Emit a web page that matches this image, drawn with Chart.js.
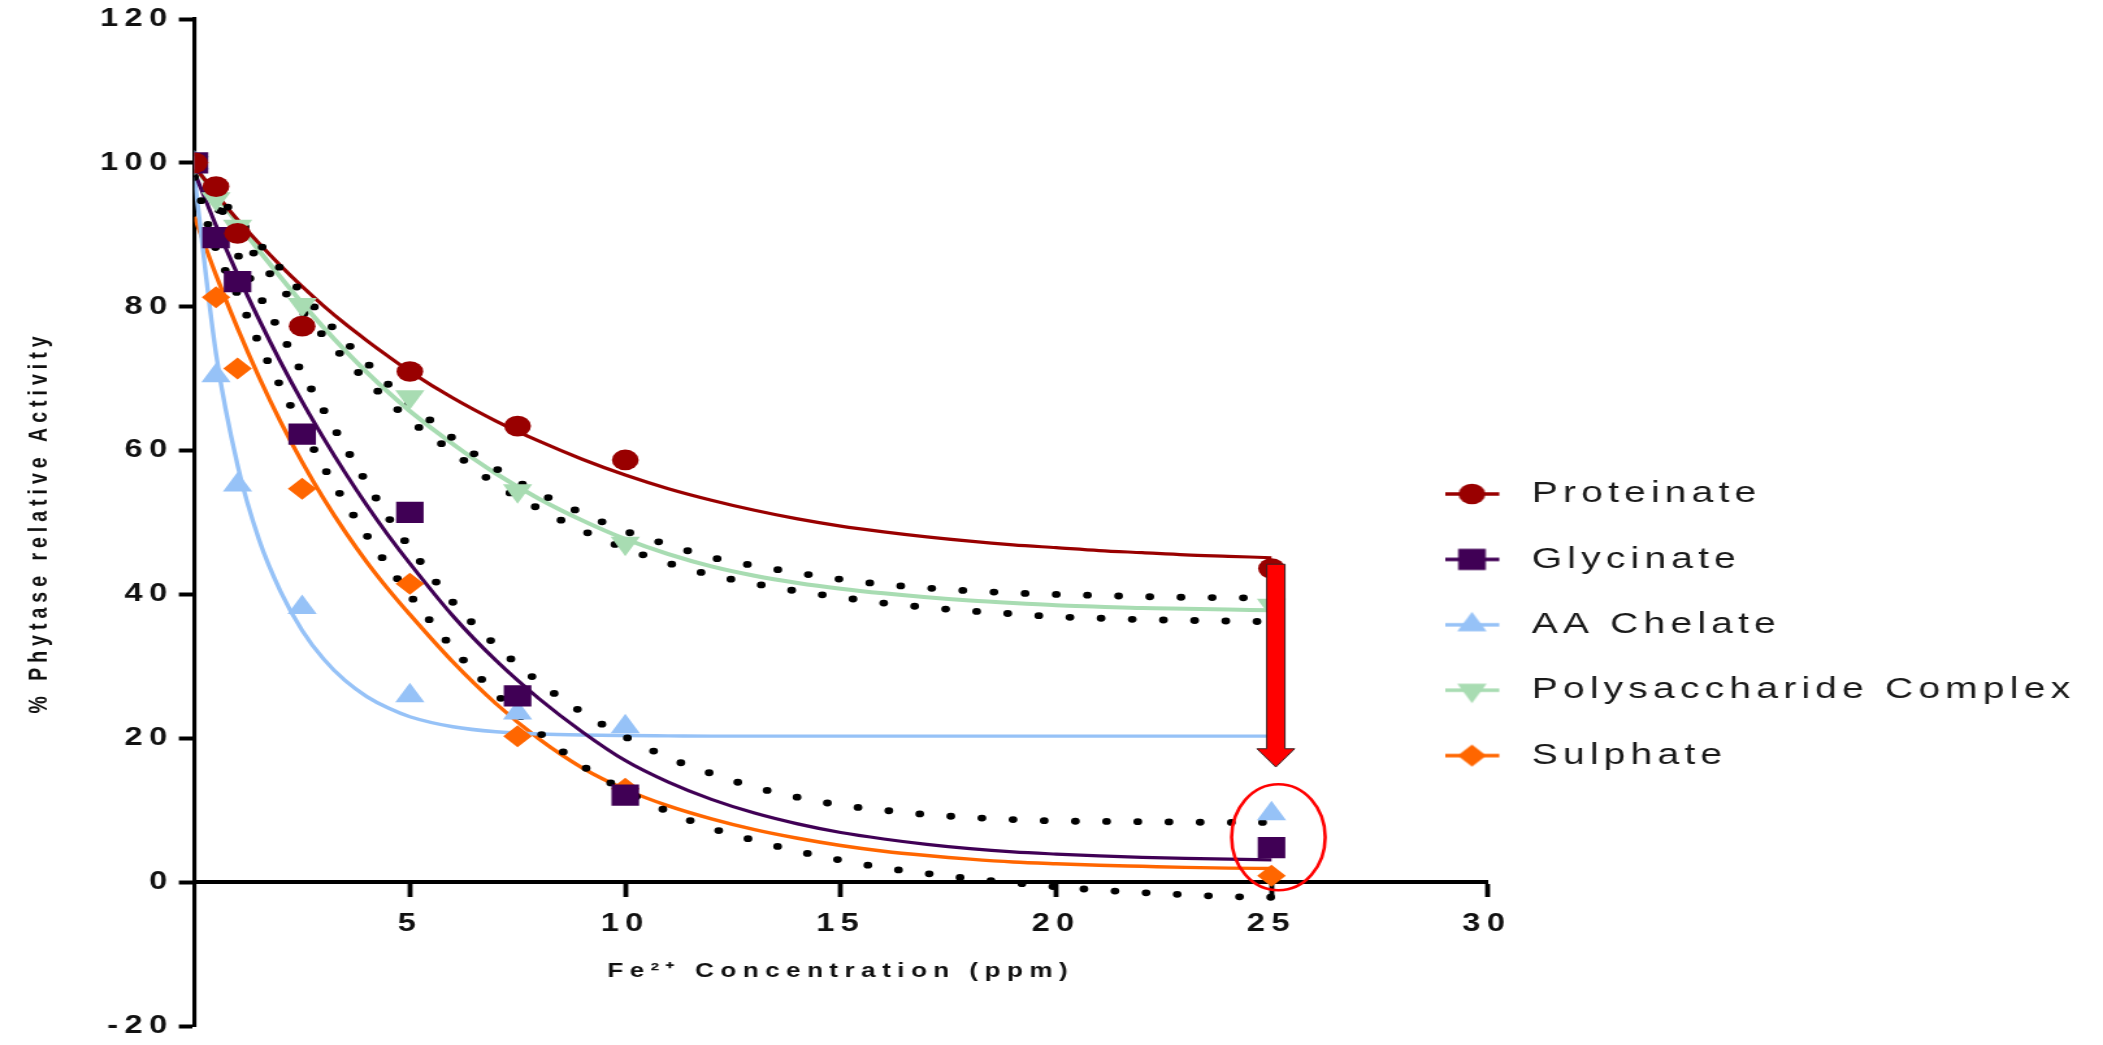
<!DOCTYPE html>
<html>
<head>
<meta charset="utf-8">
<script src="https://cdn.jsdelivr.net/npm/chart.js@4/dist/chart.umd.min.js"></script>
<style>
html,body{margin:0;padding:0;background:#fff;overflow:hidden}
#c{display:block;width:2103px !important;height:1045px !important}
</style>
</head>
<body>
<canvas id="c" width="1618" height="1045" style="width:2103px;height:1045px"></canvas>
<script>
// ---------------- data ----------------
const SERIES_NAMES = ['Proteinate', 'Glycinate', 'AA Chelate', 'Polysaccharide Complex', 'Sulphate'];

// measured points
const MARK_X     = [0, 0.5, 1, 2.5, 5, 7.5, 10, 25];
const PROTEINATE = [100, 96.7, 90.2, 77.3, 71.0, 63.4, 58.7, 43.6];
const GLYCINATE  = [100, 89.6, 83.5, 62.3, 51.4, 25.9, 12.1, 4.8];
const AA_CHELATE = [100, 70.4, 55.2, 38.2, 25.9, 23.5, 21.6, 9.5];
const POLYSACCH  = [100, 95.0, 91.2, 80.3, 67.5, 54.4, 47.1, 38.5];
const SULPHATE   = [100, 81.3, 71.4, 54.7, 41.5, 20.3, 13.0, 0.9];

// fitted curves
const FIT_X = [0, 0.5, 1, 1.5, 2, 2.5, 3, 3.5, 4, 4.5, 5, 6, 7, 8, 9, 10, 11, 12, 13, 14, 15, 16, 17, 18, 19, 20, 21, 22, 23, 24, 25];
const PROTEINATE_FIT = [99.5, 95.7, 92.1, 88.8, 85.7, 82.8, 80.1, 77.6, 75.3, 73.1, 71.0, 67.3, 64.1, 61.3, 58.8, 56.6, 54.7, 53.1, 51.7, 50.5, 49.5, 48.7, 48.0, 47.4, 46.9, 46.5, 46.1, 45.8, 45.5, 45.3, 45.1];
const GLYCINATE_FIT  = [98.7, 91.3, 84.5, 78.2, 72.3, 66.8, 61.7, 56.9, 52.4, 48.2, 44.3, 37.0, 30.8, 25.5, 20.9, 16.9, 13.9, 11.5, 9.6, 8.1, 6.9, 6.0, 5.25, 4.65, 4.2, 3.9, 3.65, 3.45, 3.3, 3.2, 3.1];
const AA_CHELATE_FIT = [98.0, 73.5, 58.0, 47.6, 40.4, 35.0, 31.0, 28.0, 25.8, 24.2, 23.0, 21.6, 20.9, 20.6, 20.45, 20.38, 20.34, 20.3, 20.3, 20.3, 20.3, 20.3, 20.3, 20.3, 20.3, 20.3, 20.3, 20.3, 20.3, 20.3, 20.3];
const POLYSACCH_FIT  = [99.5, 95.5, 91.6, 87.8, 84.1, 80.5, 77.1, 73.9, 70.9, 68.1, 65.5, 60.9, 56.8, 53.3, 50.3, 47.7, 45.6, 43.9, 42.6, 41.6, 40.8, 40.15, 39.6, 39.15, 38.8, 38.5, 38.3, 38.1, 38.0, 37.9, 37.8];
const SULPHATE_FIT   = [92.5, 84.4, 77.0, 70.2, 64.0, 58.4, 53.3, 48.7, 44.5, 40.7, 37.2, 30.6, 24.8, 19.9, 15.9, 12.9, 10.6, 8.8, 7.3, 6.1, 5.1, 4.3, 3.7, 3.2, 2.8, 2.55, 2.35, 2.2, 2.05, 1.95, 1.9];

// dotted confidence bands
const GLY_BAND_UPPER  = [99.5, 94.3, 87.3, 81.6, 76.4, 70.8, 65.6, 60.5, 55.5, 50.7, 46.5, 38.9, 32.9, 27.8, 23.6, 20.2, 17.3, 15.1, 13.2, 11.8, 10.7, 10.0, 9.4, 9.0, 8.7, 8.5, 8.45, 8.4, 8.35, 8.3, 8.3];
const GLY_BAND_LOWER  = [98.0, 88.0, 81.7, 74.9, 68.9, 63.2, 57.7, 52.8, 48.2, 43.9, 39.9, 32.5, 26.2, 20.8, 16.2, 12.7, 9.8, 7.5, 5.8, 4.3, 3.05, 2.0, 1.2, 0.5, -0.1, -0.65, -1.1, -1.45, -1.75, -2.0, -2.1];
const POLY_BAND_UPPER = [99.5, 95.8, 92.3, 88.8, 85.3, 81.9, 78.5, 75.2, 72.2, 69.2, 66.6, 61.7, 57.5, 54.1, 51.3, 48.8, 46.9, 45.15, 44.0, 43.0, 42.1, 41.4, 40.9, 40.5, 40.2, 40.0, 39.85, 39.7, 39.6, 39.55, 39.5];
const POLY_BAND_LOWER = [99.2, 94.6, 90.3, 86.5, 82.7, 79.3, 75.9, 72.7, 69.7, 66.9, 64.2, 59.8, 55.3, 51.9, 48.9, 46.4, 44.35, 42.7, 41.5, 40.45, 39.6, 38.8, 38.2, 37.7, 37.3, 36.9, 36.7, 36.5, 36.4, 36.3, 36.2];

// axis ticks
const X_TICKS = [5, 10, 15, 20, 25, 30];
const Y_TICKS = [-20, 0, 20, 40, 60, 80, 100, 120];

// annotation anchors (data coordinates)
const ARROW = { x: 25.1, from: 44.2, to: 16.0 };
const RING  = { x: 25.16, y: 6.25 };

// ---------------- styles ----------------
const FONT = "'Liberation Sans', Arial, Helvetica, sans-serif";
const STYLE = [
  { color: '#990000', point: 'circle',   r: 10.3, rot: 0,   lw: 3.2 },
  { color: '#400055', point: 'rect',     r: 15,   rot: 0,   lw: 3.2 },
  { color: '#96c2f7', point: 'triangle', r: 13,   rot: 0,   lw: 3.4 },
  { color: '#a8dcb2', point: 'triangle', r: 13,   rot: 180, lw: 4.0 },
  { color: '#ff6600', point: 'rectRot',  r: 11,   rot: 0,   lw: 3.4 },
];
const MARKS = [PROTEINATE, GLYCINATE, AA_CHELATE, POLYSACCH, SULPHATE];
const FITS  = [PROTEINATE_FIT, GLYCINATE_FIT, AA_CHELATE_FIT, POLYSACCH_FIT, SULPHATE_FIT];
const BANDS = [GLY_BAND_UPPER, GLY_BAND_LOWER, POLY_BAND_UPPER, POLY_BAND_LOWER];

const LETTER_SPACING = '5px';
const LEGEND_SPACING = '4px';
const LEG = { left: 1111.5, firstCenter: 494, font: 30, rowGap: 65.4, boxW: 52 };

function pts(xs, ys) { return xs.map((x, i) => ({ x: x, y: ys[i] })); }

function drawMarker(g, st, cx, cy) {
  const r = st.r;
  g.beginPath();
  if (st.point === 'circle') {
    g.arc(cx, cy, r, 0, Math.PI * 2);
  } else if (st.point === 'rect') {
    const s = r * Math.SQRT1_2;
    g.rect(cx - s, cy - s, 2 * s, 2 * s);
  } else if (st.point === 'triangle') {
    const d = st.rot === 180 ? -1 : 1;
    g.moveTo(cx, cy - d * r);
    g.lineTo(cx + 0.866 * r, cy + d * 0.5 * r);
    g.lineTo(cx - 0.866 * r, cy + d * 0.5 * r);
    g.closePath();
  } else if (st.point === 'rectRot') {
    g.moveTo(cx - r, cy); g.lineTo(cx, cy - r); g.lineTo(cx + r, cy); g.lineTo(cx, cy + r); g.closePath();
  }
  g.fill();
}

function makeIcon(i) {
  const cv = document.createElement('canvas');
  cv.width = LEG.boxW; cv.height = 32;
  const g = cv.getContext('2d');
  const st = STYLE[i];
  g.strokeStyle = st.color; g.lineWidth = 3.6;
  g.beginPath(); g.moveTo(0, 16); g.lineTo(42, 16); g.stroke();
  g.fillStyle = st.color;
  drawMarker(g, st, 21, 16);
  return cv;
}
const ICONS = STYLE.map((s, i) => makeIcon(i));

// ---------------- datasets ----------------
const datasets = [];
MARKS.forEach((arr, i) => {
  const st = STYLE[i];
  datasets.push({
    label: SERIES_NAMES[i], data: pts(MARK_X, arr), showLine: false,
    pointStyle: st.point, pointRadius: st.r, pointRotation: st.rot,
    pointBackgroundColor: st.color, pointBorderWidth: 0, borderColor: st.color,
    order: i
  });
});
BANDS.forEach((arr, i) => {
  datasets.push({
    label: 'band' + i, data: pts(FIT_X, arr), showLine: true,
    borderColor: '#000', borderWidth: 6.8, borderDash: [0, 24], borderCapStyle: 'round',
    pointRadius: 0, cubicInterpolationMode: 'monotone', fill: false, order: 10 + i
  });
});
FITS.forEach((arr, i) => {
  const st = STYLE[i];
  datasets.push({
    label: SERIES_NAMES[i] + ' fit', data: pts(FIT_X, arr), showLine: true,
    borderColor: st.color, borderWidth: st.lw, pointRadius: 0,
    cubicInterpolationMode: 'monotone', fill: false, order: 20 + i
  });
});

// ---------------- plugins ----------------
const spacingPlugin = {
  id: 'spacing',
  beforeInit(c) { c.ctx.letterSpacing = LETTER_SPACING; },
  beforeUpdate(c) { c.ctx.letterSpacing = LETTER_SPACING; },
  beforeLayout(c) { c.ctx.letterSpacing = LETTER_SPACING; },
  beforeDraw(c) { c.ctx.letterSpacing = LETTER_SPACING; }
};

const legendPlace = {
  id: 'legendPlace',
  afterLayout(c) {
    const lg = c.legend; if (!lg) return;
    const pad = LEG.rowGap - LEG.font;
    lg.left = LEG.left - pad;
    lg.top = LEG.firstCenter - LEG.font / 2 - pad;
    lg.right = c.width; lg.bottom = c.height;
    lg.width = lg.right - lg.left; lg.height = lg.bottom - lg.top;
    if (!lg._spacedDraw) {
      const proto = Object.getPrototypeOf(lg);
      lg.draw = function () {
        const ctx = this.ctx, old = ctx.letterSpacing;
        ctx.letterSpacing = LEGEND_SPACING;
        proto.draw.call(this);
        ctx.letterSpacing = old;
      };
      lg._spacedDraw = true;
    }
  }
};

const annotPlugin = {
  id: 'annot',
  afterDatasetsDraw(c) {
    const ctx = c.ctx, xs = c.scales.x, ys = c.scales.y;
    ctx.save();
    const cx = xs.getPixelForValue(RING.x), cy = ys.getPixelForValue(RING.y);
    ctx.strokeStyle = '#ff0000'; ctx.lineWidth = 2.6;
    ctx.beginPath(); ctx.ellipse(cx, cy, 36, 53, 0, 0, Math.PI * 2); ctx.stroke();
    const ax = xs.getPixelForValue(ARROW.x), y0 = ys.getPixelForValue(ARROW.from), y1 = ys.getPixelForValue(ARROW.to);
    const sw = 7, hw = 14.5, hh = 18.3;
    ctx.beginPath();
    ctx.moveTo(ax - sw, y0); ctx.lineTo(ax + sw, y0); ctx.lineTo(ax + sw, y1 - hh);
    ctx.lineTo(ax + hw, y1 - hh); ctx.lineTo(ax, y1); ctx.lineTo(ax - hw, y1 - hh);
    ctx.lineTo(ax - sw, y1 - hh); ctx.closePath();
    ctx.fillStyle = '#ff0000'; ctx.fill();
    ctx.strokeStyle = '#3a2020'; ctx.lineWidth = 1; ctx.stroke();
    ctx.restore();
  }
};

// ---------------- chart ----------------
const chart = new Chart(document.getElementById('c'), {
  type: 'line',
  data: { datasets: datasets },
  plugins: [spacingPlugin, legendPlace, annotPlugin],
  options: {
    responsive: false, animation: false, devicePixelRatio: 1, events: [],
    layout: { padding: { left: 0, right: 474, top: 19, bottom: 0 } },
    plugins: {
      tooltip: { enabled: false },
      legend: {
        display: true, position: 'chartArea', align: 'start',
        labels: {
          usePointStyle: true, pointStyleWidth: LEG.boxW, padding: LEG.rowGap - LEG.font,
          color: '#1a1a1a', font: { family: FONT, size: LEG.font, weight: 'normal' },
          generateLabels: () => SERIES_NAMES.map((n, i) => ({
            text: n, pointStyle: ICONS[i], fillStyle: STYLE[i].color, strokeStyle: STYLE[i].color,
            lineWidth: 0, hidden: false, datasetIndex: i, fontColor: '#1a1a1a'
          }))
        }
      }
    },
    scales: {
      x: {
        type: 'linear', position: { y: 0 }, min: 0, max: 30,
        afterBuildTicks: s => { s.ticks = X_TICKS.map(v => ({ value: v })); },
        afterFit: s => { s.height = 18; },
        grid: { display: true, drawOnChartArea: false, drawTicks: true, tickLength: 13, tickWidth: 3.8, tickColor: '#000' },
        border: { display: true, color: '#000', width: 4 },
        ticks: { color: '#111', font: { family: FONT, size: 25, weight: 'bold' }, padding: 14, maxRotation: 0, autoSkip: false, callback: v => String(v) },
        title: { display: true, text: 'Fe²⁺ Concentration (ppm)', color: '#111', font: { family: FONT, size: 20, weight: 'bold' }, padding: { top: 0, bottom: -83 } }
      },
      y: {
        type: 'linear', position: 'left', min: -20, max: 120,
        afterBuildTicks: s => { s.ticks = Y_TICKS.map(v => ({ value: v })); },
        afterFit: s => { s.width = 149.6; },
        grid: { display: true, drawOnChartArea: false, drawTicks: true, tickLength: 12, tickWidth: 4, tickColor: '#000' },
        border: { display: true, color: '#000', width: 3.1 },
        ticks: { color: '#111', font: { family: FONT, size: 25, weight: 'bold' }, padding: 4, autoSkip: false, callback: v => String(v) },
        title: { display: true, text: '% Phytase relative Activity', color: '#111', font: { family: FONT, size: 19.5, weight: 'bold' }, padding: { top: 19, bottom: 0 } }
      }
    }
  }
});
// keep the horizontal stretch of the original figure
const cv = document.getElementById('c');
cv.style.width = '2103px'; cv.style.height = '1045px';
</script>
</body>
</html>
